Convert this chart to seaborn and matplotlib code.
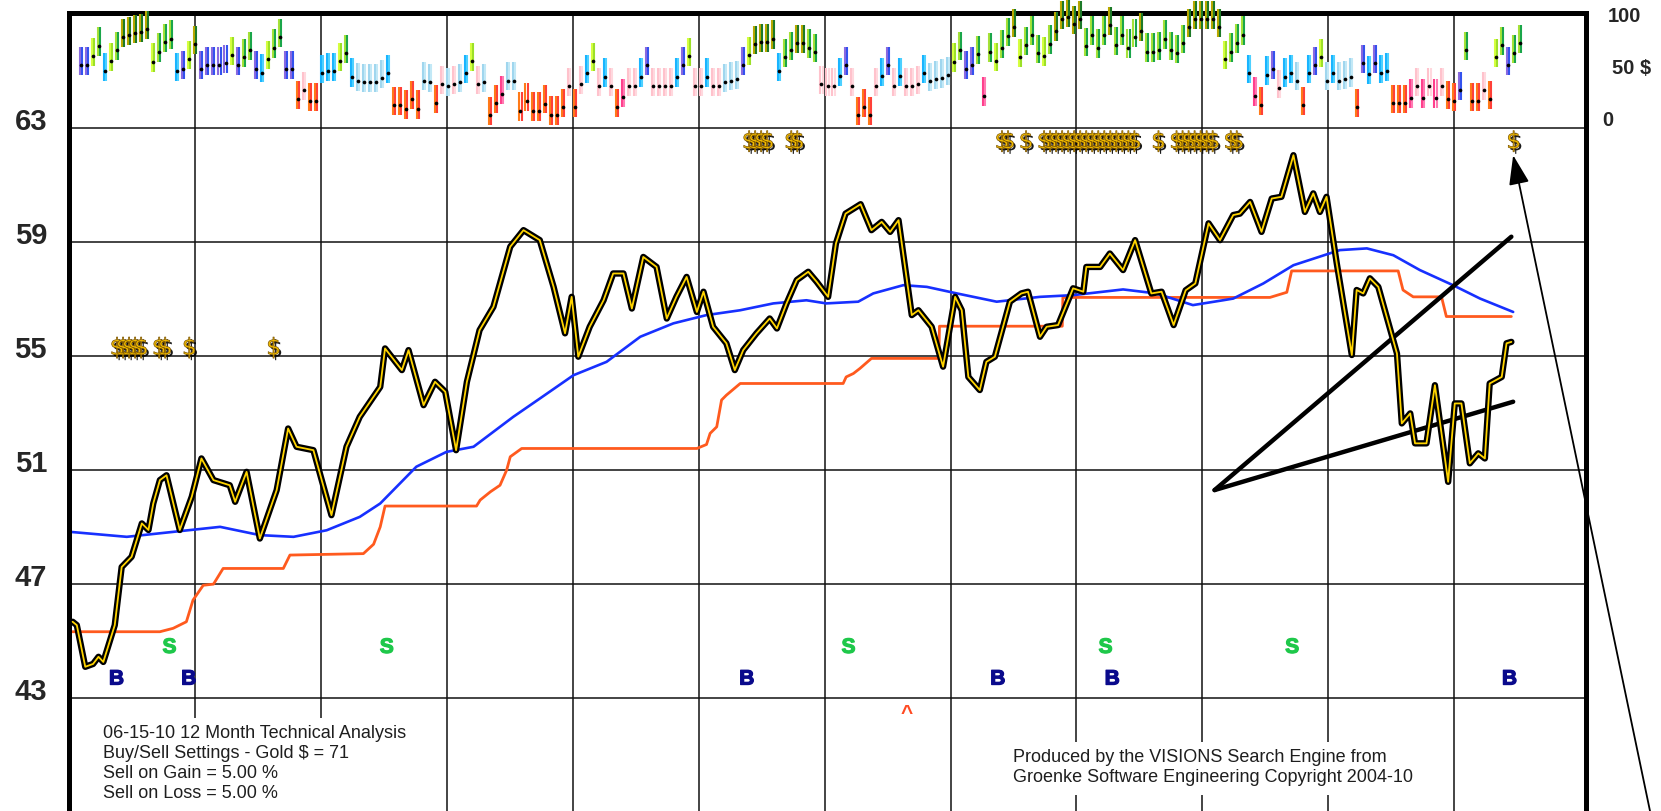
import numpy as np
import pandas as pd
import seaborn as sns
import matplotlib.pyplot as plt
import matplotlib.patheffects as pe
from matplotlib.patches import Rectangle

sns.set_style("white")
plt.rcParams['font.family'] = ['Liberation Sans', 'DejaVu Sans']

# ---- price (trading day index, close) ----
price_day = [0.6, 1.3, 2.7, 4.0, 4.9, 5.7, 7.6, 8.75, 10.4, 12.1,
             13.2, 14.0, 15.1, 16.2, 18.4, 20.4, 22.0, 24.0, 26.7, 27.6,
             29.5, 31.7, 34.5, 36.4, 37.8, 40.6, 43.6, 46.1, 48.3, 51.7,
             52.5, 55.3, 56.4, 58.9, 60.8, 62.5, 64.3, 66.1, 68.2, 70.5,
             73.3, 75.5, 78.2, 80.5, 82.4, 83.5, 84.6, 86.5, 88.8, 90.4,
             92.1, 93.5, 95.4, 97.6, 99.3, 100.9, 102.6, 104.3, 105.4, 107.0,
             109.2, 110.6, 112.0, 114.2, 116.4, 117.6, 119.2, 120.9, 122.8, 124.2,
             126.1, 127.4, 129.0, 131.5, 133.3, 135.0, 136.4, 137.8, 140.0, 141.1,
             143.3, 145.2, 147.2, 148.3, 149.4, 151.3, 152.4, 153.8, 154.7, 156.3,
             158.2, 159.3, 161.3, 162.4, 164.3, 166.8, 168.5, 169.0, 171.3, 172.9,
             175.1, 177.1, 179.8, 181.5, 183.5, 185.5, 187.1, 189.3, 191.2, 193.4,
             194.5, 196.2, 198.1, 199.8, 201.4, 203.4, 205.3, 206.7, 207.8, 208.9,
             210.6, 213.1, 213.9, 215.0, 216.1, 217.5, 220.6, 221.4, 222.8, 223.6,
             225.5, 226.9, 229.1, 230.2, 231.3, 232.7, 234.1, 235.2, 236.0, 238.0,
             238.8, 239.6]
price_val = [45.68, 45.56, 44.10, 44.20, 44.45, 44.27, 45.56, 47.6, 47.96, 49.13,
             48.9, 49.83, 50.65, 50.82, 48.9, 50.07, 51.41, 50.65, 50.47, 49.89,
             50.94, 48.6, 50.30, 52.46, 51.82, 51.70, 49.42, 51.82, 52.87, 53.92,
             55.27, 54.51, 55.21, 53.28, 54.10, 53.75, 51.70, 54.10, 55.91, 56.73,
             58.84, 59.42, 59.07, 57.43, 55.80, 57.08, 54.98, 56.03, 56.96, 57.90,
             57.90, 56.67, 58.48, 58.13, 56.32, 57.08, 57.78, 56.55, 57.26, 56.03,
             55.45, 54.51, 55.21, 55.80, 56.32, 55.97, 56.85, 57.67, 57.96, 57.61,
             57.08, 58.95, 60.0, 60.33, 59.42, 59.71, 59.36, 59.77, 56.44, 56.61,
             56.03, 54.63, 57.08, 56.61, 54.27, 53.81, 54.80, 54.98, 55.68, 56.91,
             57.20, 57.26, 55.68, 56.03, 56.09, 57.38, 57.26, 58.13, 58.13, 58.60,
             58.02, 59.07, 57.20, 57.26, 56.09, 57.31, 57.55, 59.66, 59.07, 59.95,
             60.0, 60.41, 59.36, 60.53, 60.59, 62.05, 60.06, 60.71, 60.06, 60.59,
             58.25, 55.04, 57.32, 57.20, 57.73, 57.43, 55.09, 52.64, 52.99, 51.94,
             51.94, 53.98, 50.59, 53.34, 53.34, 51.24, 51.59, 51.41, 54.04, 54.27,
             55.45, 55.50]

# ---- moving average (blue) ----
ma_day = [0.4, 9.6, 25.1, 31.7, 37.3, 42.8, 48.3, 51.7, 57.7, 62.7,
          67.2, 73.8, 78.2, 83.8, 89.3, 94.9, 100.4, 105.9, 111.5, 117.0,
          122.5, 125.8, 131.1, 133.6, 138.6, 142.5, 147.5, 154.1, 161.3, 166.8,
          175.1, 180.6, 186.7, 191.7, 193.4, 198.4, 203.4, 211.1, 215.6, 220.0,
          224.4, 229.9, 234.4, 239.9]
ma_val = [48.83, 48.66, 49.01, 48.72, 48.66, 48.89, 49.36, 49.83, 51.12, 51.64,
          51.82, 52.87, 53.51, 54.33, 54.80, 55.68, 56.15, 56.44, 56.61, 56.85,
          56.96, 56.85, 56.91, 57.20, 57.49, 57.43, 57.20, 56.91, 57.08, 57.14,
          57.34, 57.20, 56.79, 56.96, 57.02, 57.55, 58.19, 58.72, 58.78, 58.54,
          58.02, 57.49, 57.02, 56.55]

# ---- trailing stop (orange) ----
stop_day = [0.4, 15.1, 17.3, 19.5, 20.6, 22.3, 24.0, 25.6, 35.6, 36.7,
            48.9, 50.6, 51.7, 52.5, 67.7, 68.3, 70.0, 71.6, 72.7, 73.3,
            75.2, 104.3, 105.9, 106.5, 107.6, 108.4, 109.2, 111.5, 128.6, 129.1,
            130.3, 131.4, 133.3, 144.5, 144.6, 165.0, 165.1, 199.5, 202.3, 203.1,
            220.8, 221.6, 223.3, 228.0, 228.8, 239.6]
stop_val = [45.33, 45.33, 45.45, 45.68, 46.44, 46.96, 47.0, 47.55, 47.55, 48.02,
            48.07, 48.4, 49.01, 49.74, 49.74, 49.95, 50.24, 50.47, 51.0, 51.47,
            51.76, 51.76, 51.9, 52.29, 52.52, 53.46, 53.63, 54.04, 54.04, 54.27,
            54.39, 54.57, 54.92, 54.92, 56.05, 56.05, 57.06, 57.06, 57.24, 57.99,
            57.99, 57.32, 57.08, 57.08, 56.39, 56.39]

# ---- hand drawn trend lines ----
trend_start = (190.3, 50.3)
trend_ends = [(239.6, 59.19), (239.9, 53.40)]

# ---- daily indicator strip (0-100), one bar per day from day 2 ----
ind_vals = [52.9, 52.9, 61.5, 71.5, 47.4, 56.7, 67.3, 80.1, 81.7, 83.3,
            84.6, 87.2, 56.1, 65.7, 75.3, 78.2, 47.1, 49.0, 58.3, 72.8,
            48.7, 52.9, 52.9, 52.9, 55.1, 62.5, 52.9, 60.3, 67.3, 49.0,
            45.8, 58.3, 69.6, 80.1, 49.0, 49.0, 19.9, 28.8, 18.3, 18.3,
            45.5, 47.4, 47.4, 56.7, 64.1, 41.7, 37.8, 36.5, 36.5, 36.5,
            40.1, 45.5, 14.1, 14.1, 10.9, 19.9, 10.9, 38.1, 36.5, 16.3,
            34.3, 32.7, 34.3, 36.5, 45.5, 56.4, 34.3, 36.5, 4.8, 16.3,
            25.3, 38.1, 38.1, 9.0, 18.3, 9.0, 9.0, 16.0, 5.4, 5.4,
            12.5, 32.4, 12.5, 34.6, 45.5, 56.4, 32.4, 41.7, 32.4, 12.5,
            21.8, 32.4, 32.4, 41.7, 52.6, 32.4, 32.4, 32.4, 32.4, 41.7,
            52.6, 61.5, 32.4, 32.4, 41.7, 32.4, 32.4, 36.5, 38.1, 39.7,
            52.6, 62.5, 73.1, 74.7, 74.7, 78.2, 47.4, 60.3, 67.3,
            73.7, 73.7, 69.6, 65.1, 34.3, 32.7, 32.7, 42.0, 52.9, 32.7,
            4.8, 12.5, 4.8, 32.7, 42.0, 52.9, 32.7, 42.0, 32.7, 32.7,
            34.3, 45.5, 37.8, 39.1, 40.7, 43.3, 56.1, 67.3, 49.0, 52.9,
            63.5, 23.4, 65.7, 56.4, 68.9, 80.8, 89.7, 60.3, 71.8, 82.1,
            64.1, 61.9, 73.4, 85.9, 96.8, 98.7, 92.3, 96.8, 71.2, 82.1,
            69.6, 82.1, 91.0, 71.8, 82.1, 69.6, 80.1, 85.3, 65.7, 65.7,
            67.3, 78.2, 67.3, 64.1, 73.7, 89.7, 96.8, 96.8, 96.8, 96.8,
            89.7, 58.3, 65.7, 74.4, 82.1, 45.5, 23.4, 14.1, 43.6, 49.0,
            30.8, 41.7, 45.5, 38.1, 14.1, 45.5, 52.9, 60.3, 38.1, 45.5,
            38.1, 39.7, 41.7, 12.5, 54.5, 44.2, 54.5, 45.5, 47.1, 16.3,
            16.3, 16.3, 21.5, 32.7, 21.5, 32.7, 21.5, 32.7, 19.9, 18.3,
            28.8, 67.3, 18.3, 18.3, 28.8, 19.9, 60.3, 71.8, 52.9, 64.1,
            73.7]
ind_cats = ("bbygcygDDD" "DDygggcbyD" "bbbbbybggb" "cyggbbokoo" "cccygcllll"
            "lcooooollo" "klklcykloo" "pllooooooo" "okokcykcko" "pkkcbkkkkc"
            "bykkckklll" "byDDDDcgg"
            "DDggkkkcbk" "oookcbkckk" "kcllllygbb" "gpgyggDygg" "gygDDDDDgg"
            "ggDggggDgg" "gggggDDDDD" "Dygggcpocb" "kcclocbylc" "lllobcbcco"
            "oopkpkpkoo" "bgookoygbg" "g")
cat_colors = {'D': ('#b9a800', '#1d7a28'), 'g': ('#a6e238', '#1aa64a'),
              'y': ('#d6ff40', '#9ce028'), 'c': ('#18b4ff', '#4dd0ff'),
              'b': ('#8a6ae0', '#3452ee'), 'l': ('#9fd6ee', '#c2e8f6'),
              'k': ('#ffc2cc', '#ffd8de'), 'p': ('#ff3f8c', '#ff7ab2'),
              'o': ('#ff7a18', '#ff4038')}

# ---- signals ----
sell_days = [16.7, 52.8, 129.5, 172.2, 203.2]
buy_days = [7.9, 19.9, 112.6, 154.3, 173.3, 239.3]
caret_day = 139.2
gold_days_top = [113, 114, 115, 116, 120, 121, 155, 156, 159,
                 162, 163, 164, 165, 166, 167, 168, 169, 170, 171, 172, 173,
                 174, 175, 176, 177, 181, 184, 185, 186, 187, 188, 189, 190,
                 193, 194, 240]
gold_days_left = [8, 9, 10, 11, 12, 15, 16, 20, 34]
price_ticks = [43, 47, 51, 55, 59, 63]
ind_ticks = [100, 50, 0]
ind_labels = ['100', '50 $', '0']

month_len = 20.92
ind_base, ind_scale = 63.28, 0.0365   # indicator 0..100 -> price axis

W, H = 1661, 811
fig = plt.figure(figsize=(W / 100, H / 100), dpi=100)
ax = fig.add_axes([69 / W, 0, 1517 / W, 1 - 12.7 / H])
ax.set_xlim(0, 252)
ax.set_ylim(39.04, 67.05)

ax.set_xticks(month_len * np.arange(1, 12))
ax.set_yticks(price_ticks)
ax.tick_params(length=0, labelleft=False, labelbottom=False)
ax.grid(True, color='#111111', lw=1.1)
ax.set_axisbelow(True)
for s in ['left', 'right', 'top']:
    ax.spines[s].set_linewidth(3.6)
    ax.spines[s].set_color('black')
ax.spines['bottom'].set_visible(False)

# indicator bars
ind = pd.DataFrame({'day': np.arange(2, 2 + len(ind_vals)), 'val': ind_vals,
                    'cat': list(ind_cats)})
ind['mid'] = ind_base + ind['val'] * ind_scale
ind['lo'] = ind_base + (ind['val'] - 9.6) * ind_scale
ind['hi'] = ind_base + (ind['val'] + 17.6) * ind_scale
for cat, grp in ind.groupby('cat'):
    c1, c2 = cat_colors[cat]
    ax.vlines(grp['day'] - 0.17, grp['lo'], grp['hi'], color=c1, lw=1.5,
              zorder=3, clip_on=False)
    ax.vlines(grp['day'] + 0.17, grp['lo'], grp['hi'], color=c2, lw=1.5,
              zorder=3, clip_on=False)
ax.scatter(ind['day'], ind['mid'], s=7, color='black', linewidths=0,
           zorder=4, clip_on=False)

# lines
sns.lineplot(x=stop_day, y=stop_val, ax=ax, color='#ff5a1e', lw=2.0,
             estimator=None, sort=False, zorder=2)
sns.lineplot(x=ma_day, y=ma_val, ax=ax, color='#1730ff', lw=1.9,
             estimator=None, sort=False, zorder=2.1)
for end in trend_ends:
    sns.lineplot(x=[trend_start[0], end[0]], y=[trend_start[1], end[1]], ax=ax,
                 color='black', lw=3.2, estimator=None, sort=False, zorder=2.3)
sns.lineplot(x=price_day, y=price_val, ax=ax, color='black', lw=4.6,
             estimator=None, sort=False, zorder=2.5)
sns.lineplot(x=price_day, y=price_val, ax=ax, color='#ffd400', lw=1.3,
             estimator=None, sort=False, zorder=2.6)

# gold $ markers (drawn as marker glyphs)
gold_fx = [pe.SimplePatchShadow(offset=(1.5, -1.5), shadow_rgbFace='black', alpha=0.9),
           pe.Normal()]
gold = pd.DataFrame({'day': gold_days_top + gold_days_left,
                     'y': [62.54] * len(gold_days_top) + [55.3] * len(gold_days_left)})
coll = ax.scatter(gold['day'], gold['y'], marker=r'$\$$', s=230, color='#f2bd00',
                  edgecolors='#7a5200', linewidths=0.5, zorder=5, clip_on=False)
coll.set_path_effects(gold_fx)

# buy / sell letters
thick = [pe.Stroke(linewidth=0.9, foreground='#1ec84a'), pe.Normal()]
for d in sell_days:
    ax.text(d, 44.78, 'S', color='#1ec84a', fontsize=15, fontweight='bold',
            ha='center', va='center', zorder=5, path_effects=thick)
thick_b = [pe.Stroke(linewidth=0.9, foreground='#0a0a8c'), pe.Normal()]
for d in buy_days:
    ax.text(d, 43.67, 'B', color='#0a0a8c', fontsize=15, fontweight='bold',
            ha='center', va='center', zorder=5, path_effects=thick_b)
ax.text(caret_day, 42.45, '^', color='#ff4a22', fontsize=15, fontweight='bold',
        ha='center', va='center', zorder=5)

# axis labels
for v in price_ticks:
    ax.text(-0.0145, v + 0.2, str(v), transform=ax.get_yaxis_transform(),
            ha='right', va='center', fontsize=21, fontweight='bold')
for v, lab, xo in zip(ind_ticks, ind_labels, [1.0145, 1.017, 1.011]):
    ax.text(xo, ind_base + v * ind_scale, lab, transform=ax.get_yaxis_transform(),
            ha='left', va='center', fontsize=14.5, fontweight='bold')

# arrow to the latest gold $
ax.annotate('', xy=(239.9, 62.05), xytext=(1650 / W, 0.0),
            textcoords='figure fraction', annotation_clip=False,
            arrowprops=dict(arrowstyle='-|>,head_length=1.3,head_width=0.45',
                            color='black', lw=1.3, mutation_scale=14,
                            shrinkA=0, shrinkB=0), zorder=8)

# footer notes
fig.add_artist(Rectangle((75 / W, 0), 365 / W, 93 / H, transform=fig.transFigure,
                         facecolor='white', edgecolor='none', zorder=5))
fig.add_artist(Rectangle((1008 / W, 16 / H), 425 / W, 53 / H, transform=fig.transFigure,
                         facecolor='white', edgecolor='none', zorder=5))
notes_left = ['06-15-10 12 Month Technical Analysis',
              'Buy/Sell Settings - Gold $ = 71',
              'Sell on Gain = 5.00 %',
              'Sell on Loss = 5.00 %']
for i, t in enumerate(notes_left):
    fig.text(103 / W, 1 - (734 + 19.7 * i) / H, t, fontsize=13, color='#1e1e1e',
             ha='left', va='center', zorder=6)
notes_right = ['Produced by the VISIONS Search Engine from',
               'Groenke Software Engineering Copyright 2004-10']
for i, t in enumerate(notes_right):
    fig.text(1013 / W, 1 - (758 + 20 * i) / H, t, fontsize=13, color='#1e1e1e',
             ha='left', va='center', zorder=6)

fig.savefig('out.png', dpi=100, facecolor='white')
